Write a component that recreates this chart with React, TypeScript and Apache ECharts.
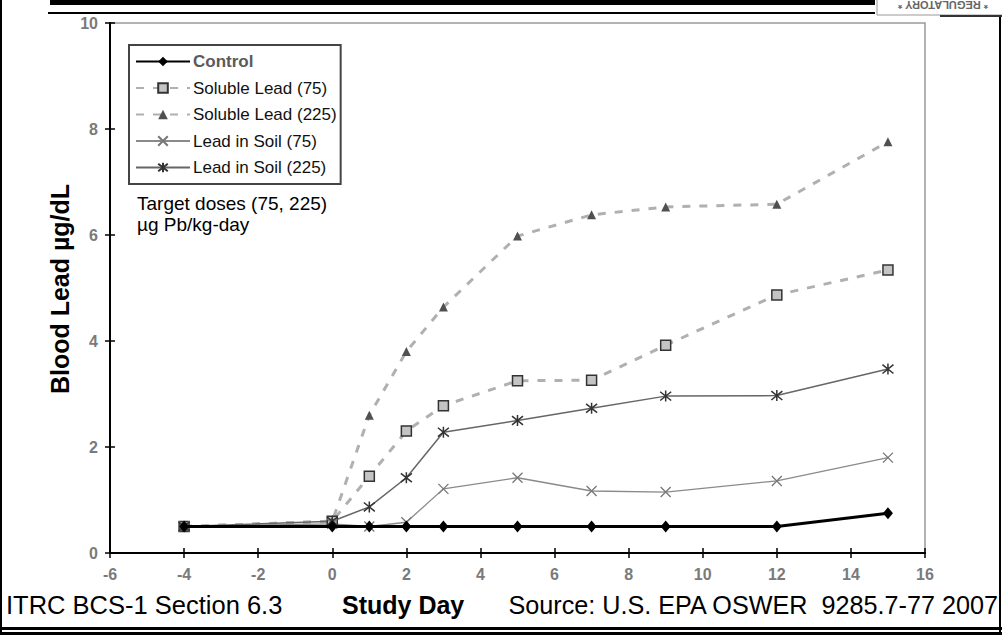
import React, { useEffect, useRef } from 'react';
import * as echarts from 'echarts';

const days = [-4, 0, 1, 2, 3, 5, 7, 9, 12, 15];
const control = [0.5, 0.5, 0.5, 0.5, 0.5, 0.5, 0.5, 0.5, 0.5, 0.75];
const soluble75 = [0.5, 0.6, 1.45, 2.3, 2.78, 3.25, 3.26, 3.92, 4.87, 5.34];
const soluble225 = [0.5, 0.6, 2.6, 3.8, 4.64, 5.98, 6.38, 6.53, 6.58, 7.76];
const soil75 = [0.5, 0.55, 0.5, 0.58, 1.21, 1.42, 1.17, 1.15, 1.36, 1.8];
const soil225 = [0.5, 0.6, 0.87, 1.42, 2.28, 2.5, 2.73, 2.96, 2.97, 3.47];
const seriesNames = ['Control', 'Soluble Lead (75)', 'Soluble Lead (225)', 'Lead in Soil (75)', 'Lead in Soil (225)'];

const FONT = "'Liberation Sans', Arial, sans-serif";
const pts = (vals: number[]) => days.map((d, i) => [d, vals[i]]);

export default function App() {
  const ref = useRef<HTMLDivElement>(null);
  useEffect(() => {
    const chart = echarts.init(ref.current!, null, { renderer: 'svg' });
    const axisLabel = { color: '#7a7a7a', fontSize: 16, fontWeight: 'bold', fontFamily: FONT };
    const option: any = {
      animation: false,
      backgroundColor: '#fff',
      grid: { left: 110, right: 77, top: 23, bottom: 82, show: true, borderColor: '#9a9a9a', borderWidth: 1.5 },
      xAxis: [
        {
          type: 'value', min: -6, max: 16, interval: 2,
          axisLine: { show: true, onZero: false, lineStyle: { color: '#000', width: 2 } },
          axisTick: { show: true, length: 5, lineStyle: { color: '#000', width: 1.5 } },
          axisLabel: { ...axisLabel, margin: 13 },
          splitLine: { show: false },
        },
        {
          type: 'value', min: -6, max: 16, interval: 2, position: 'bottom',
          axisLine: { show: false, onZero: false },
          axisTick: { show: true, inside: true, length: 5, lineStyle: { color: '#000', width: 1.5 } },
          axisLabel: { show: false },
          splitLine: { show: false },
        },
      ],
      yAxis: [
        {
          type: 'value', min: 0, max: 10, interval: 2,
          axisLine: { show: true, onZero: false, lineStyle: { color: '#000', width: 2 } },
          axisTick: { show: true, length: 5, lineStyle: { color: '#000', width: 1.5 } },
          axisLabel: { ...axisLabel, margin: 12 },
          splitLine: { show: false },
        },
        {
          type: 'value', min: 0, max: 10, interval: 2, position: 'left',
          axisLine: { show: false, onZero: false },
          axisTick: { show: true, inside: true, length: 5, lineStyle: { color: '#000', width: 1.5 } },
          axisLabel: { show: false },
          splitLine: { show: false },
        },
      ],
      legend: {
        orient: 'vertical', left: 129, top: 45,
        padding: [8, 4, 8, 6], itemGap: 9.5, itemWidth: 54, itemHeight: 12,
        borderColor: '#444', borderWidth: 2, backgroundColor: '#fff',
        textStyle: { fontSize: 17, fontFamily: FONT, color: '#111', lineHeight: 17, padding: [0, 0, 0, -2] },
        data: [
          { name: seriesNames[0], textStyle: { color: '#5a5a5a', fontWeight: 'bold' } },
          seriesNames[1], seriesNames[2], seriesNames[3], seriesNames[4],
        ],
      },
      series: [
        {
          name: seriesNames[0], type: 'line', data: pts(control), z: 10,
          lineStyle: { color: '#000', width: 3 },
          symbol: 'diamond', symbolSize: [10, 12],
          itemStyle: { color: '#000' },
        },
        {
          name: seriesNames[1], type: 'line', data: pts(soluble75),
          lineStyle: { color: '#b0b0b0', width: 3, type: [8, 9] },
          symbol: 'rect', symbolSize: 10,
          itemStyle: { color: '#c4c4c4', borderColor: '#333', borderWidth: 1.5 },
        },
        {
          name: seriesNames[2], type: 'line', data: pts(soluble225),
          lineStyle: { color: '#b0b0b0', width: 3, type: [8, 9] },
          symbol: 'triangle', symbolSize: 9,
          itemStyle: { color: '#505050' },
        },
        {
          name: seriesNames[3], type: 'line', data: pts(soil75),
          lineStyle: { color: '#8a8a8a', width: 1.3 },
          symbol: 'path://M0,0L10,10M10,0L0,10', symbolSize: 10,
          itemStyle: { color: 'none', borderColor: '#777', borderWidth: 1.3 },
        },
        {
          name: seriesNames[4], type: 'line', data: pts(soil225),
          lineStyle: { color: '#666', width: 1.5 },
          symbol: 'path://M0,1L10,9M10,1L0,9M5,0L5,10', symbolSize: 11,
          itemStyle: { color: 'none', borderColor: '#333', borderWidth: 1.5 },
        },
      ],
      graphic: [
        { type: 'rect', shape: { x: 50, y: 0, width: 825, height: 5 }, style: { fill: '#000' } },
        { type: 'rect', shape: { x: 48, y: 12, width: 827, height: 2 }, style: { fill: '#000' } },
        { type: 'rect', shape: { x: 0, y: 0, width: 2, height: 635 }, style: { fill: '#000' } },
        { type: 'rect', shape: { x: 999, y: 17, width: 2, height: 615 }, style: { fill: '#000' } },
        { type: 'rect', shape: { x: 0, y: 627, width: 1002, height: 3 }, style: { fill: '#000' } },
        { type: 'rect', shape: { x: 0, y: 632, width: 1002, height: 3 }, style: { fill: '#000' } },
        { type: 'rect', shape: { x: 877, y: -2, width: 130, height: 17 }, style: { fill: '#fff', stroke: '#999', lineWidth: 1 } },
        { type: 'rect', shape: { x: 940, y: 15, width: 62, height: 2 }, style: { fill: '#333' } },
        {
          type: 'text', x: 943, y: 5, rotation: Math.PI,
          style: { text: '* REGULATORY *', font: `bold 11px ${FONT}`, fill: '#666', align: 'center', verticalAlign: 'middle' },
        },
        {
          type: 'text', x: 60, y: 289, rotation: Math.PI / 2,
          style: { text: 'Blood Lead µg/dL', font: `bold 25px ${FONT}`, fill: '#000', align: 'center', verticalAlign: 'middle' },
        },
        {
          type: 'text', x: 137, y: 203,
          style: { text: 'Target doses (75, 225)', font: `19px ${FONT}`, fill: '#000', align: 'left', verticalAlign: 'middle' },
        },
        {
          type: 'text', x: 137, y: 224,
          style: { text: 'µg Pb/kg-day', font: `19px ${FONT}`, fill: '#000', align: 'left', verticalAlign: 'middle' },
        },
        {
          type: 'text', x: 6, y: 605,
          style: { text: 'ITRC BCS-1 Section 6.3', font: `25.5px ${FONT}`, fill: '#000', align: 'left', verticalAlign: 'middle' },
        },
        {
          type: 'text', x: 342, y: 605,
          style: { text: 'Study Day', font: `bold 25px ${FONT}`, fill: '#000', align: 'left', verticalAlign: 'middle' },
        },
        {
          type: 'text', x: 998, y: 605,
          style: { text: 'Source: U.S. EPA OSWER  9285.7-77 2007', font: `25.2px ${FONT}`, fill: '#000', align: 'right', verticalAlign: 'middle' },
        },
      ],
    };
    chart.setOption(option);
    return () => chart.dispose();
  }, []);
  return <div ref={ref} style={{ position: 'absolute', left: 0, top: 0, width: 1002, height: 635 }} />;
}
